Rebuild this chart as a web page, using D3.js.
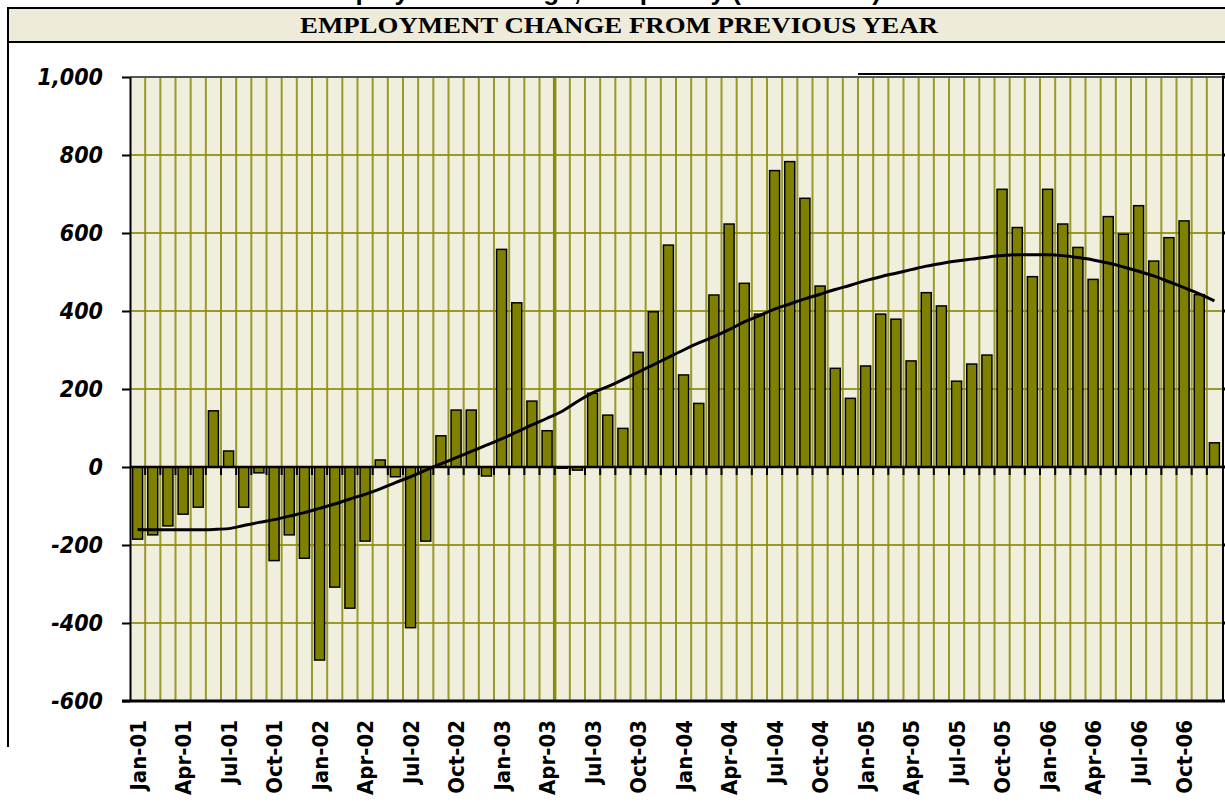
<!DOCTYPE html>
<html>
<head>
<meta charset="utf-8">
<script src="https://cdn.jsdelivr.net/npm/d3@7"></script>
<style>
  body { margin: 0; background: #ffffff; overflow: hidden; }
</style>
</head>
<body>
<svg id="chart" width="1225" height="803"></svg>
<script>
// categories: monthly, Jan-01 .. Dec-06
const monthNames = ["Jan", "Feb", "Mar", "Apr", "May", "Jun", "Jul", "Aug", "Sep", "Oct", "Nov", "Dec"];
const years = ["01", "02", "03", "04", "05", "06"];
const categories = years.flatMap(yr => monthNames.map(m => m + "-" + yr));

// employment change from previous year (thousands)
const employmentChange = [
  -185, -174, -151, -121, -103, 144, 41, -103, -15, -240, -174, -234,
  -495, -308, -362, -190, 18, -25, -412, -190, 80, 146, 146, -23,
  558, 421, 169, 93, -3, -8, 189, 133, 99, 294, 398, 569,
  236, 163, 441, 623, 471, 392, 760, 783, 689, 464, 253, 176,
  259, 392, 379, 272, 447, 413, 220, 264, 287, 712, 614, 488,
  712, 623, 563, 481, 642, 597, 670, 528, 588, 631, 442, 62
];

// trend line
const trendValues = [
  -160, -161, -161, -161, -161, -160, -158, -150, -142, -135, -126, -117,
  -106, -95, -82, -70, -56, -40, -25, -8, 8, 24, 40, 56,
  72, 90, 108, 125, 143, 168, 190, 206, 224, 243, 262, 281,
  300, 318, 334, 352, 372, 388, 405, 418, 431, 443, 455, 466,
  478, 488, 497, 506, 515, 522, 528, 533, 538, 542, 544, 544,
  544, 542, 537, 531, 523, 513, 502, 490, 475, 460, 444, 426
];

const yTicks = [-600, -400, -200, 0, 200, 400, 600, 800, 1000];
const yTickLabels = ["-600", "-400", "-200", "0", "200", "400", "600", "800", "1,000"];
const xTickLabels = [
  "Jan-01", "Apr-01", "Jul-01", "Oct-01", "Jan-02", "Apr-02", "Jul-02", "Oct-02",
  "Jan-03", "Apr-03", "Jul-03", "Oct-03", "Jan-04", "Apr-04", "Jul-04", "Oct-04",
  "Jan-05", "Apr-05", "Jul-05", "Oct-05", "Jan-06", "Apr-06", "Jul-06", "Oct-06"
];
const markerMonth = "May-03";

const width = 1225, height = 803;
const margin = { top: 77, right: 3, bottom: 102, left: 130 };

const gridColor = "#8c8c0a";
const barColor = "#808000";
const plotBg = "#f0eedd";

const svg = d3.select("#chart");

const x = d3.scaleBand()
  .domain(categories)
  .range([margin.left, width - margin.right])
  .paddingInner(0.34)
  .paddingOuter(0.17);

const y = d3.scaleLinear()
  .domain([-600, 1000])
  .range([height - margin.bottom, margin.top]);

// left edge of each category cell
const cellLeft = c => x(c) - x.step() * x.paddingInner() / 2;

// title, mostly cut off at the top (as in the source image)
svg.append("text")
  .attr("x", 598)
  .attr("y", 0)
  .attr("text-anchor", "middle")
  .attr("font-family", "Liberation Sans, Arial, sans-serif")
  .attr("font-weight", "bold")
  .attr("font-size", 26)
  .text("Employment Change, Tampa Bay (thousands)");

// header band
svg.append("rect")
  .attr("x", 8).attr("y", 8)
  .attr("width", 1230).attr("height", 34)
  .attr("fill", "#efebdb")
  .attr("stroke", "#000").attr("stroke-width", 2);

svg.append("text")
  .attr("x", 619)
  .attr("y", 33)
  .attr("text-anchor", "middle")
  .attr("font-family", "Liberation Serif, Times New Roman, serif")
  .attr("font-weight", "bold")
  .attr("font-size", 23)
  .attr("textLength", 638)
  .attr("lengthAdjust", "spacingAndGlyphs")
  .text("EMPLOYMENT CHANGE FROM PREVIOUS YEAR");

// outer frame line on the left
svg.append("line")
  .attr("x1", 8).attr("x2", 8)
  .attr("y1", 42).attr("y2", 747)
  .attr("stroke", "#000").attr("stroke-width", 2);

// short rule at top right
svg.append("line")
  .attr("x1", 858).attr("x2", width)
  .attr("y1", 74).attr("y2", 74)
  .attr("stroke", "#000").attr("stroke-width", 2);

// plot background
svg.append("rect")
  .attr("x", margin.left).attr("y", margin.top)
  .attr("width", width - margin.right - margin.left)
  .attr("height", height - margin.bottom - margin.top)
  .attr("fill", plotBg);

// horizontal gridlines
svg.append("g")
  .selectAll("line")
  .data(yTicks)
  .enter()
  .append("line")
  .attr("x1", margin.left).attr("x2", width - margin.right)
  .attr("y1", d => y(d)).attr("y2", d => y(d))
  .attr("stroke", gridColor).attr("stroke-width", 2).attr("opacity", 0.85);

// vertical gridlines between months
svg.append("g")
  .selectAll("line")
  .data(categories.slice(1))
  .enter()
  .append("line")
  .attr("x1", d => cellLeft(d)).attr("x2", d => cellLeft(d))
  .attr("y1", margin.top).attr("y2", height - margin.bottom)
  .attr("stroke", gridColor)
  .attr("stroke-width", d => d === markerMonth ? 3.5 : 2)
  .attr("opacity", d => d === markerMonth ? 1 : 0.85);

// top border of plot
svg.append("line")
  .attr("x1", margin.left).attr("x2", width - margin.right)
  .attr("y1", margin.top).attr("y2", margin.top)
  .attr("stroke", "#555").attr("stroke-width", 2);

// bars
svg.append("g")
  .selectAll("rect")
  .data(employmentChange)
  .enter()
  .append("rect")
  .attr("x", (d, i) => x(categories[i]))
  .attr("y", d => y(Math.max(0, d)))
  .attr("width", x.bandwidth())
  .attr("height", d => Math.abs(y(d) - y(0)))
  .attr("fill", barColor)
  .attr("stroke", "#000")
  .attr("stroke-width", 1.5);

// zero line with small ticks
svg.append("line")
  .attr("x1", margin.left).attr("x2", width - margin.right)
  .attr("y1", y(0)).attr("y2", y(0))
  .attr("stroke", "#000").attr("stroke-width", 2.5);

svg.append("g")
  .selectAll("line")
  .data(categories.slice(1))
  .enter()
  .append("line")
  .attr("x1", d => cellLeft(d)).attr("x2", d => cellLeft(d))
  .attr("y1", y(0)).attr("y2", y(0) + 8)
  .attr("stroke", "#000").attr("stroke-width", 2);

// trend line
const trend = d3.line()
  .x((d, i) => x(categories[i]) + x.bandwidth() / 2)
  .y(d => y(d))
  .curve(d3.curveMonotoneX);

svg.append("path")
  .datum(trendValues)
  .attr("d", trend)
  .attr("fill", "none")
  .attr("stroke", "#000")
  .attr("stroke-width", 3);

// left axis
const yAxis = svg.append("g")
  .attr("transform", `translate(${margin.left},0)`)
  .call(d3.axisLeft(y)
    .tickValues(yTicks)
    .tickFormat((d, i) => yTickLabels[i])
    .tickSize(8)
    .tickSizeOuter(0)
    .tickPadding(19));

yAxis.select(".domain").attr("stroke", "#000").attr("stroke-width", 2);
yAxis.selectAll(".tick line").attr("stroke", "#000").attr("stroke-width", 2);
yAxis.selectAll(".tick text")
  .attr("fill", "#000")
  .attr("font-family", "DejaVu Sans Condensed, DejaVu Sans, sans-serif")
  .attr("font-stretch", "condensed")
  .attr("font-style", "italic")
  .attr("font-weight", "bold")
  .attr("font-size", 23);

// right border with ticks
svg.append("line")
  .attr("x1", width - margin.right + 1).attr("x2", width - margin.right + 1)
  .attr("y1", margin.top).attr("y2", height - margin.bottom)
  .attr("stroke", "#000").attr("stroke-width", 2);

svg.append("g")
  .selectAll("line")
  .data(yTicks)
  .enter()
  .append("line")
  .attr("x1", width - margin.right).attr("x2", width)
  .attr("y1", d => y(d)).attr("y2", d => y(d))
  .attr("stroke", "#000").attr("stroke-width", 3);

// bottom axis line
svg.append("line")
  .attr("x1", margin.left - 8).attr("x2", width - margin.right)
  .attr("y1", height - margin.bottom).attr("y2", height - margin.bottom)
  .attr("stroke", "#000").attr("stroke-width", 3);

// month labels, rotated
svg.append("g")
  .selectAll("text")
  .data(xTickLabels)
  .enter()
  .append("text")
  .attr("transform", d => `translate(${x(d) + x.bandwidth() / 2},${height - margin.bottom + 19}) rotate(-90)`)
  .attr("text-anchor", "end")
  .attr("dy", "0.36em")
  .attr("font-family", "DejaVu Sans Condensed, DejaVu Sans, sans-serif")
  .attr("font-stretch", "condensed")
  .attr("font-weight", "bold")
  .attr("font-size", 22)
  .text(d => d);
</script>
</body>
</html>
